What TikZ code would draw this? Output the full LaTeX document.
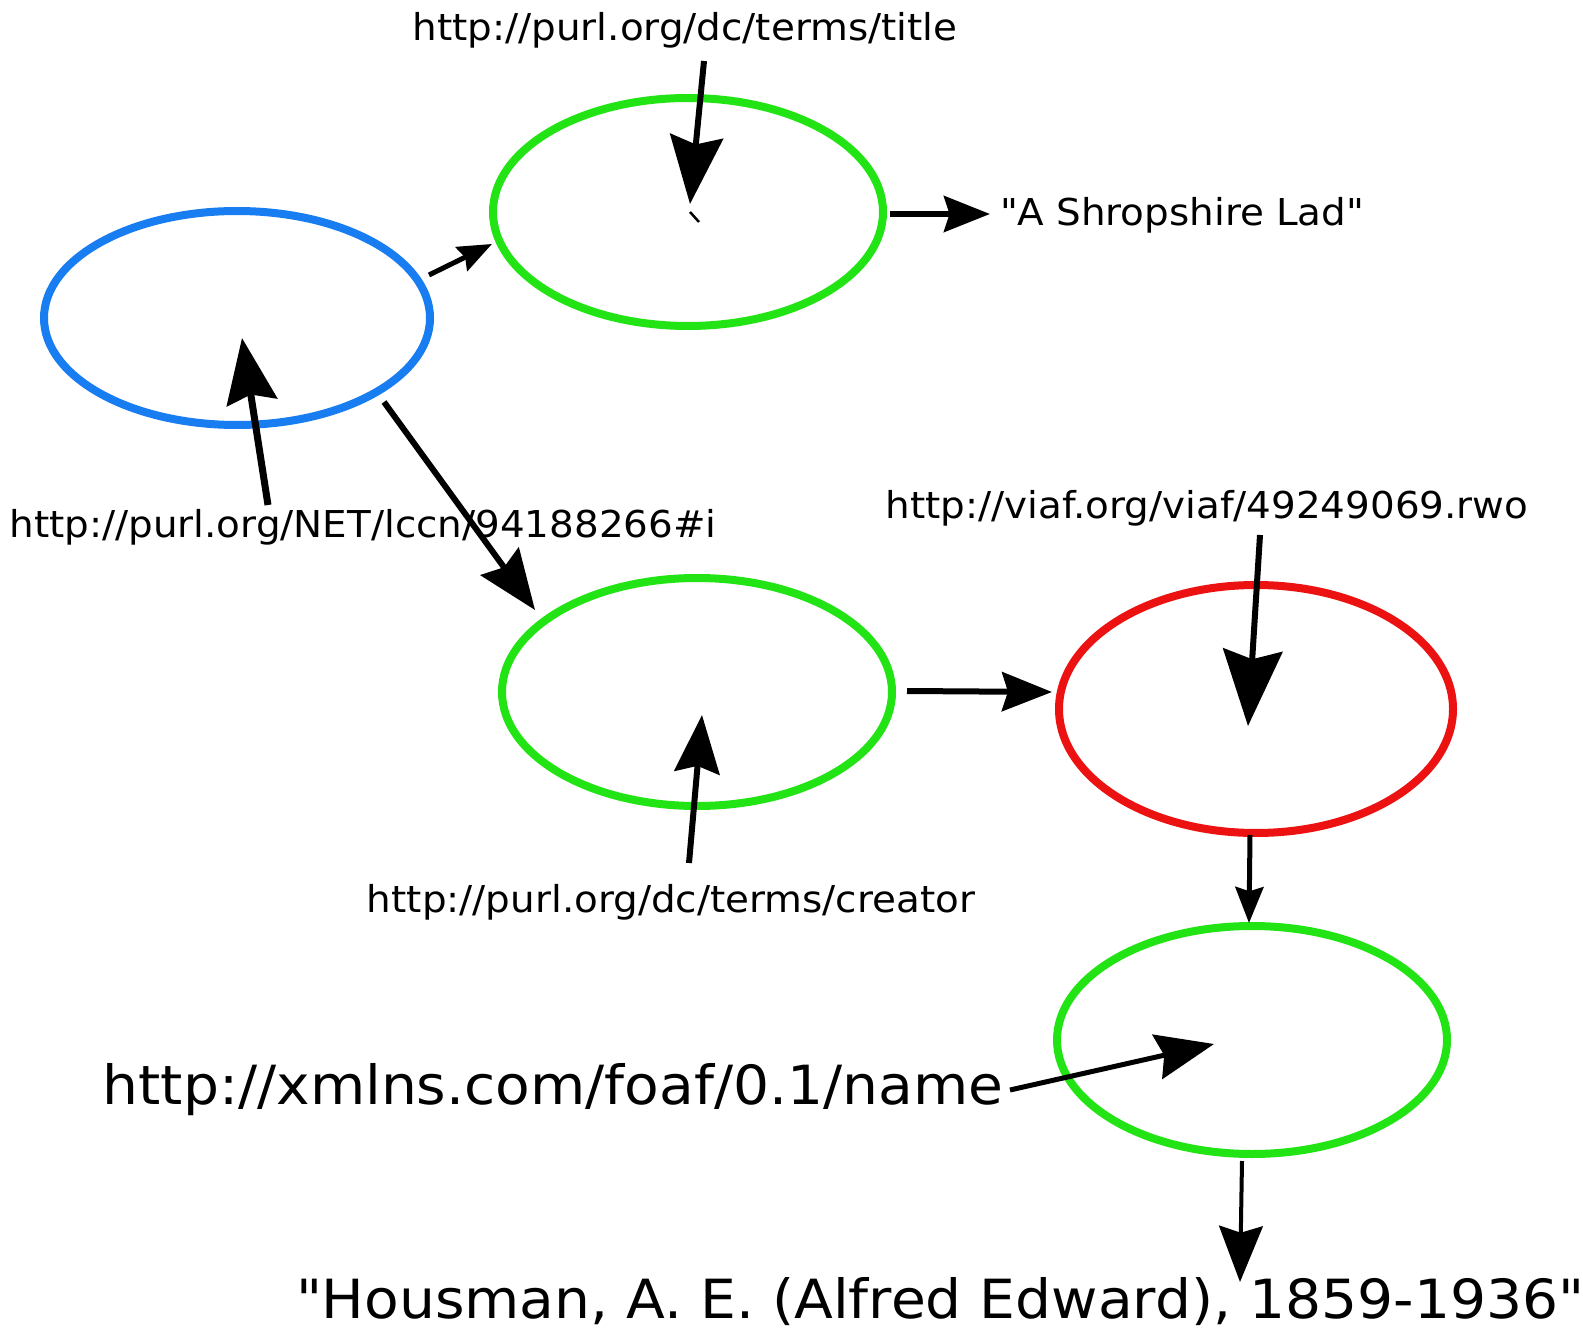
\documentclass[tikz,border=0pt]{standalone}
\usepackage{fontspec}
\setmainfont{DejaVu Sans}
\newfontfamily\lblfont[FakeStretch=1.05]{DejaVu Sans}
\usetikzlibrary{shapes.geometric,arrows.meta}
\definecolor{cblue}{RGB}{24,125,240}
\definecolor{cgreen}{RGB}{34,228,20}
\definecolor{cred}{RGB}{236,18,18}
\tikzset{
  res/.style={ellipse, draw, line width=8pt, inner sep=0pt},
  small/.style={font=\lblfont\fontsize{37}{42}\selectfont, inner sep=0pt},
  big/.style={font=\lblfont\fontsize{54}{60}\selectfont, inner sep=0pt},
  arr/.style={line width=6pt, -{Stealth[length=#1pt, width=0.78*#1pt, inset=0.12*#1pt]}},
  arr/.default=55,
}
\begin{document}
\begin{tikzpicture}[x=1pt,y=-1pt]
\useasboundingbox[fill=white] (0,0) rectangle (1583,1337);
% resources
\node[res, draw=cblue, minimum width=386pt, minimum height=214pt] (blue) at (237,318) {};
\node[res, draw=cgreen, minimum width=390pt, minimum height=228pt] (gtitle) at (688,212) {};
\node[res, draw=cgreen, minimum width=390pt, minimum height=228pt] (gcreator) at (697,692) {};
\node[res, draw=cred, minimum width=394pt, minimum height=248pt] (red) at (1256,709) {};
\node[res, draw=cgreen, minimum width=390pt, minimum height=228pt] (gname) at (1252,1040) {};
% labels
\node[small] (ttitle) at (685,30) {http://purl.org/dc/terms/title};
\node[small] (tlad) at (1182,215) {\textquotedbl A Shropshire Lad\textquotedbl};
\node[small] (tlccn) at (363,527) {http://purl.org/NET/lccn/94188266\#i};
\node[small] (tviaf) at (1207,508) {http://viaf.org/viaf/49249069.rwo};
\node[small] (tcreator) at (671,902) {http://purl.org/dc/terms/creator};
\node[big] (tfoaf) at (553,1090) {http://xmlns.com/foaf/0.1/name};
\node[big] (thous) at (940,1302) {\textquotedbl Housman, A. E. (Alfred Edward), 1859-1936\textquotedbl};
% connector end points
\coordinate (a1s) at (429,275); \coordinate (a1e) at (492,244);
\coordinate (a2s) at (704,61);  \coordinate (a2e) at (690,204);
\coordinate (a3s) at (890,214); \coordinate (a3e) at (990,214);
\coordinate (a5s) at (268,505); \coordinate (a5e) at (242,338);
\coordinate (a6s) at (384,402); \coordinate (a6e) at (535,610);
\coordinate (a9s) at (689,863); \coordinate (a9e) at (702,715);
\coordinate (a11s) at (907,691); \coordinate (a11e) at (1052,692);
\coordinate (a13s) at (1260,535); \coordinate (a13e) at (1248,726);
\coordinate (a14s) at (1250,835); \coordinate (a14e) at (1249,923);
\coordinate (a16s) at (1010,1090); \coordinate (a16e) at (1214,1044);
\coordinate (a17s) at (1242,1161); \coordinate (a17e) at (1240,1282);
\coordinate (dots) at (690,212); \coordinate (dote) at (699,222);
% connectors
\draw[arr=34, line width=5pt] (a1s) -- (a1e);
\draw[arr=68] (a2s) -- (a2e);
\draw[line width=2.5pt] (dots) -- (dote);
\draw[arr=46, line width=6pt] (a3s) -- (a3e);
\draw[arr=65, line width=7pt] (a5s) -- (a5e);
\draw[arr=60] (a6s) -- (a6e);
\draw[arr=58] (a9s) -- (a9e);
\draw[arr=50, line width=6pt] (a11s) -- (a11e);
\draw[arr=76] (a13s) -- (a13e);
\draw[arr=36, line width=5pt] (a14s) -- (a14e);
\draw[arr=58, line width=5pt] (a16s) -- (a16e);
\draw[arr=56, line width=4pt] (a17s) -- (a17e);
\end{tikzpicture}
\end{document}
